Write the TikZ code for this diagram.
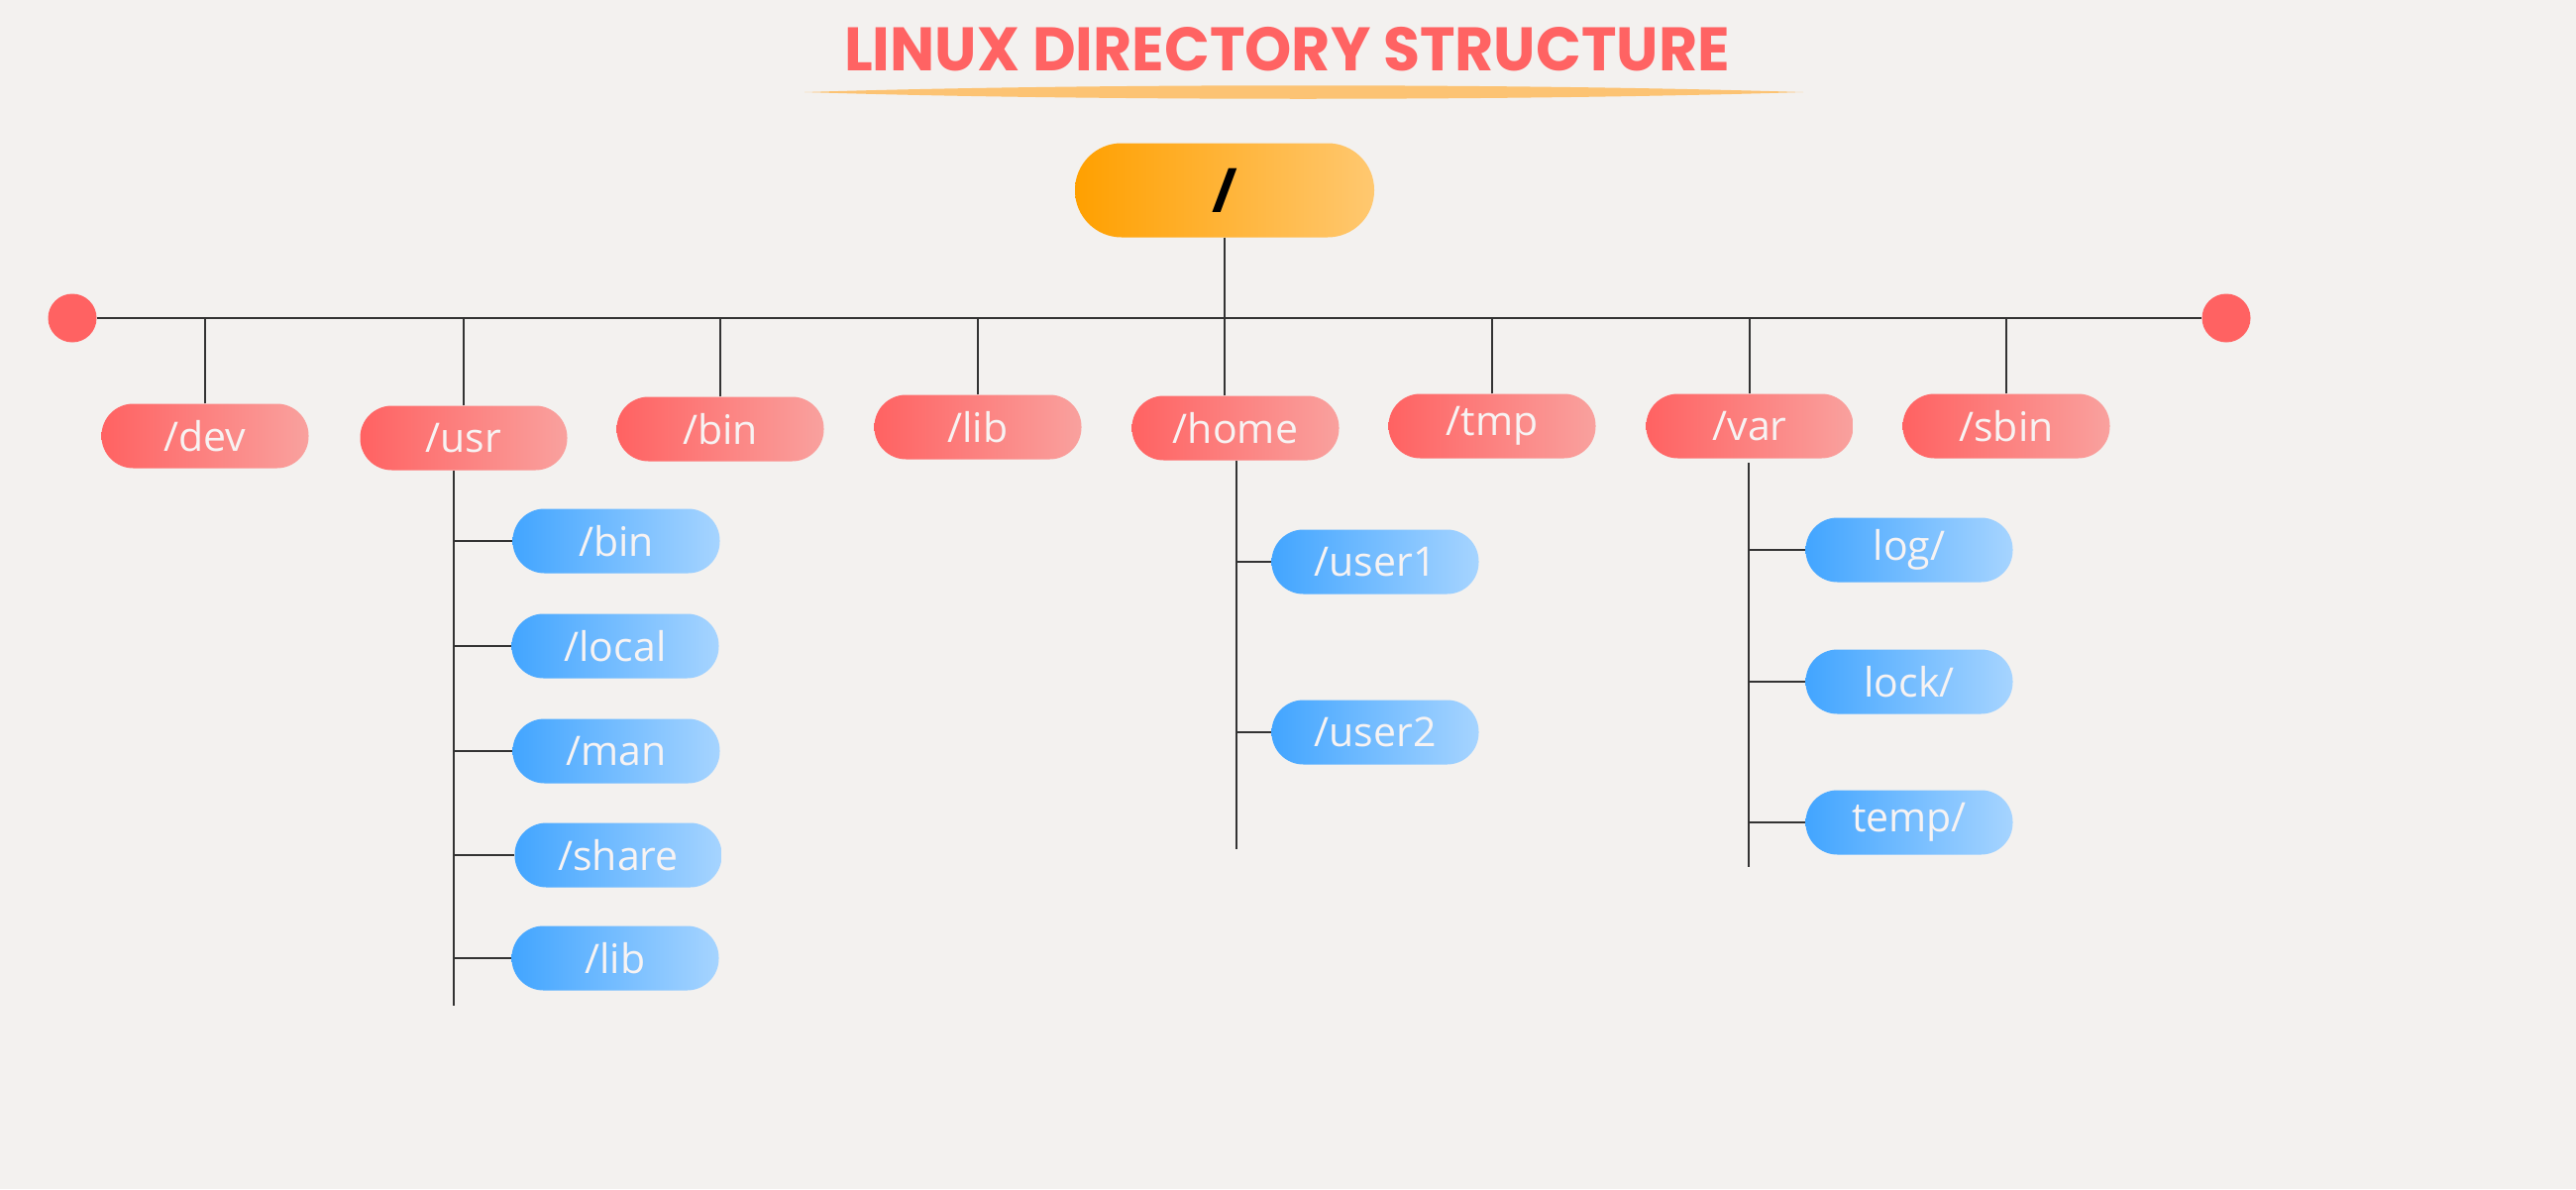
\documentclass[tikz,border=0pt]{standalone}
\usepackage{fontspec}
\setmainfont{Open Sans}
\newfontfamily\titlefont{Poppins}
\usetikzlibrary{calc}
\definecolor{bg}{HTML}{F3F1EF}
\definecolor{redL}{HTML}{FF6262}
\definecolor{redR}{HTML}{F9A19E}
\definecolor{blueL}{HTML}{42A5FF}
\definecolor{blueR}{HTML}{A6D4FF}
\definecolor{orL}{HTML}{FFA000}
\definecolor{orR}{HTML}{FFC870}
\definecolor{titlecol}{HTML}{FF6363}
\definecolor{swoosh}{HTML}{FCC373}
\definecolor{linecol}{HTML}{333333}
\definecolor{txt}{HTML}{F7F3F3}
\tikzset{
  pill/.style={rectangle, rounded corners=32pt, minimum width=209pt, minimum height=65pt, inner sep=0pt, text=txt, font=\fontsize{41}{44}\selectfont},
  redbox/.style={pill, left color=redL, right color=redR},
  bluebox/.style={pill, left color=blueL, right color=blueR},
  rootbox/.style={rectangle, rounded corners=47pt, minimum width=302pt, minimum height=95pt, inner sep=0pt, left color=orL, right color=orR, text=black, font=\fontsize{62}{64}\selectfont\bfseries},
  enddot/.style={circle, fill=redL, minimum size=49pt, inner sep=0pt},
  conn/.style={draw=linecol, line width=1.4pt},
  bus/.style={draw=linecol, line width=2.2pt},
}
\begin{document}
\begin{tikzpicture}[x=1pt,y=-1pt]
\useasboundingbox[fill=bg] (0,0) rectangle (2600,1200);
% title
\node[text=titlecol, font=\titlefont\fontsize{62}{64}\selectfont\bfseries, inner sep=0pt] (title) at (1299,50) {\scalebox{0.97}[1]{LINUX DIRECTORY STRUCTURE}};
\fill[swoosh] (812,93) .. controls (1100,84) and (1530,84) .. (1820,93) .. controls (1530,102) and (1100,102) .. (812,93) -- cycle;
% root
\node[rootbox] (root) at (1236,192) {/};
% bus ends
\node[enddot] (dl) at (73,321) {};
\node[enddot] (dr) at (2247,321) {};
\draw[bus] (dl) -- (dr);
\draw[conn] (root.south) -- (root.south |- dl);
% level 1
\node[redbox] (dev) at (207,440) {/dev};
\node[redbox] (usr) at (468,442) {/usr};
\node[redbox] (bin) at (727,433) {/bin};
\node[redbox] (lib) at (987,431) {/lib};
\node[redbox] (home) at (1247,432) {/home};
\node[redbox] (tmp) at (1506,430) {/tmp};
\node[redbox] (var) at (1766,430) {/var};
\node[redbox] (sbin) at (2025,430) {/sbin};
\foreach \n in {dev,usr,bin,lib,tmp,var,sbin}{
  \draw[conn] (\n.north) -- (\n.north |- dl);
}
\draw[conn] (root.south |- home.north) -- (root.south |- dl);
% usr children
\node[bluebox] (ubin) at (622,546) {/bin};
\node[bluebox] (ulocal) at (621,652) {/local};
\node[bluebox] (uman) at (622,758) {/man};
\node[bluebox] (ushare) at (624,863) {/share};
\node[bluebox] (ulib) at (621,967) {/lib};
\coordinate (usrTop) at (458,475);
\coordinate (usrBot) at (458,1015);
\draw[conn] (usrTop) -- (usrBot);
\foreach \n in {ubin,ulocal,uman,ushare,ulib}{
  \draw[conn] (usrTop |- \n.west) -- (\n.west);
}
% home children
\node[bluebox] (user1) at (1388,567) {/user1};
\node[bluebox] (user2) at (1388,739) {/user2};
\coordinate (homeTop) at (1248,465);
\coordinate (homeBot) at (1248,857);
\draw[conn] (homeTop) -- (homeBot);
\foreach \n in {user1,user2}{
  \draw[conn] (homeTop |- \n.west) -- (\n.west);
}
% var children
\node[bluebox] (log) at (1927,555) {log/};
\node[bluebox] (lock) at (1927,688) {lock/};
\node[bluebox] (temp) at (1927,830) {temp/};
\coordinate (varTop) at (1765,467);
\coordinate (varBot) at (1765,875);
\draw[conn] (varTop) -- (varBot);
\foreach \n in {log,lock,temp}{
  \draw[conn] (varTop |- \n.west) -- (\n.west);
}
\end{tikzpicture}
\end{document}
